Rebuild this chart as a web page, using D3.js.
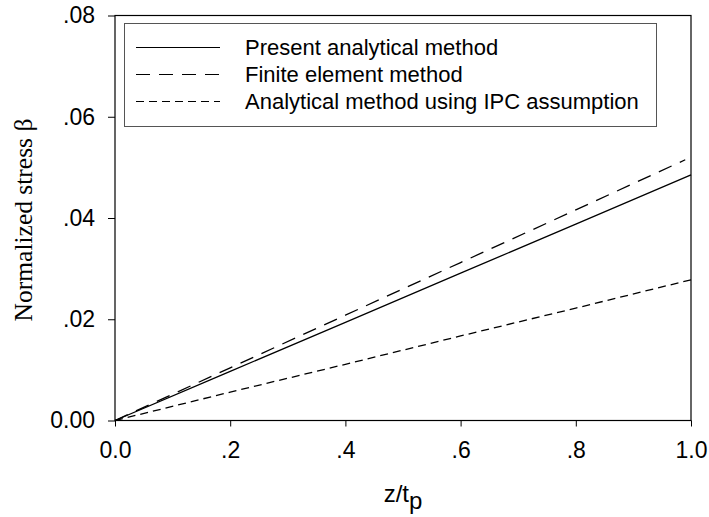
<!DOCTYPE html>
<html>
<head>
<meta charset="utf-8">
<script src="https://cdn.jsdelivr.net/npm/d3@7"></script>
<style>
  body { margin: 0; background: #fff; }
  svg { display: block; }
</style>
</head>
<body>
<div id="chart"></div>
<script>
// values
var zValues   = [0, 0.2, 0.4, 0.6, 0.8, 1.0];
var present   = [0, 0.0097, 0.0194, 0.0291, 0.0388, 0.0485];
var femZ      = [0, 0.2, 0.4, 0.6, 0.8, 0.99];
var fem       = [0, 0.0104, 0.0208, 0.0312, 0.0416, 0.0515];
var ipc       = [0, 0.0056, 0.0111, 0.0167, 0.0222, 0.0278];

var xTicks = [0, 0.2, 0.4, 0.6, 0.8, 1.0];
var xTickLabels = ["0.0", ".2", ".4", ".6", ".8", "1.0"];
var yTicks = [0, 0.02, 0.04, 0.06, 0.08];
var yTickLabels = ["0.00", ".02", ".04", ".06", ".08"];

var legendLabels = ["Present analytical method", "Finite element method", "Analytical method using IPC assumption"];
var dashes = [null, "14,9", "8,5"];

var width = 709, height = 517;
var margin = {left: 115, right: 18, top: 15.5, bottom: 96.5};

var svg = d3.select("#chart").append("svg")
    .attr("width", width)
    .attr("height", height);

var x = d3.scaleLinear().domain([0, 1]).range([margin.left, width - margin.right]);
var y = d3.scaleLinear().domain([0, 0.08]).range([height - margin.bottom, margin.top]);

var font = "'Liberation Sans', Arial, sans-serif";

// x axis
var xAxis = svg.append("g")
    .attr("transform", "translate(0," + y(0) + ")")
    .call(d3.axisBottom(x).tickValues(xTicks)
        .tickFormat(function(d, i) { return xTickLabels[i]; })
        .tickSize(6).tickPadding(15));
xAxis.select(".domain").remove();
xAxis.selectAll("text").attr("font-family", font).attr("font-size", 23).attr("fill", "#000");

// y axis
var yAxis = svg.append("g")
    .attr("transform", "translate(" + x(0) + ",0)")
    .call(d3.axisLeft(y).tickValues(yTicks)
        .tickFormat(function(d, i) { return yTickLabels[i]; })
        .tickSize(7).tickPadding(13));
yAxis.select(".domain").remove();
yAxis.selectAll("text").attr("font-family", font).attr("font-size", 23).attr("fill", "#000");

// frame
svg.append("rect")
    .attr("x", x(0)).attr("y", y(0.08))
    .attr("width", x(1) - x(0)).attr("height", y(0) - y(0.08))
    .attr("fill", "none").attr("stroke", "#000").attr("stroke-width", 1.2);

// lines
var series = [
    {xs: zValues, ys: present, dash: dashes[0]},
    {xs: femZ, ys: fem, dash: dashes[1]},
    {xs: zValues, ys: ipc, dash: dashes[2]}
];

var line = d3.line()
    .x(function(d) { return x(d[0]); })
    .y(function(d) { return y(d[1]); });

series.forEach(function(s) {
    svg.append("path")
        .datum(d3.zip(s.xs, s.ys))
        .attr("d", line)
        .attr("fill", "none")
        .attr("stroke", "#000")
        .attr("stroke-width", 1.3)
        .attr("stroke-dasharray", s.dash);
});

// legend
var legend = svg.append("g");
legend.append("rect")
    .attr("x", 124.5).attr("y", 23.5)
    .attr("width", 532).attr("height", 103)
    .attr("fill", "#fff").attr("stroke", "#555").attr("stroke-width", 1);

legendLabels.forEach(function(lbl, i) {
    var ly = 47.5 + i * 27;
    legend.append("line")
        .attr("x1", 136).attr("x2", 220)
        .attr("y1", ly).attr("y2", ly)
        .attr("stroke", "#000").attr("stroke-width", 1.2)
        .attr("stroke-dasharray", dashes[i]);
    legend.append("text")
        .attr("x", 245).attr("y", ly + 7.5)
        .attr("font-family", font).attr("font-size", 22)
        .text(lbl);
});

// axis titles
var xt = svg.append("text")
    .attr("x", (x(0) + x(1)) / 2).attr("y", 502)
    .attr("text-anchor", "middle")
    .attr("font-family", font).attr("font-size", 24);
xt.append("tspan").text("z/t");
xt.append("tspan").attr("dy", 7).text("p");

svg.append("text")
    .attr("transform", "translate(32,220) rotate(-90)")
    .attr("text-anchor", "middle")
    .attr("font-family", "'Liberation Serif', 'Times New Roman', serif")
    .attr("font-size", 25.5)
    .text("Normalized stress \u03b2");
</script>
</body>
</html>
